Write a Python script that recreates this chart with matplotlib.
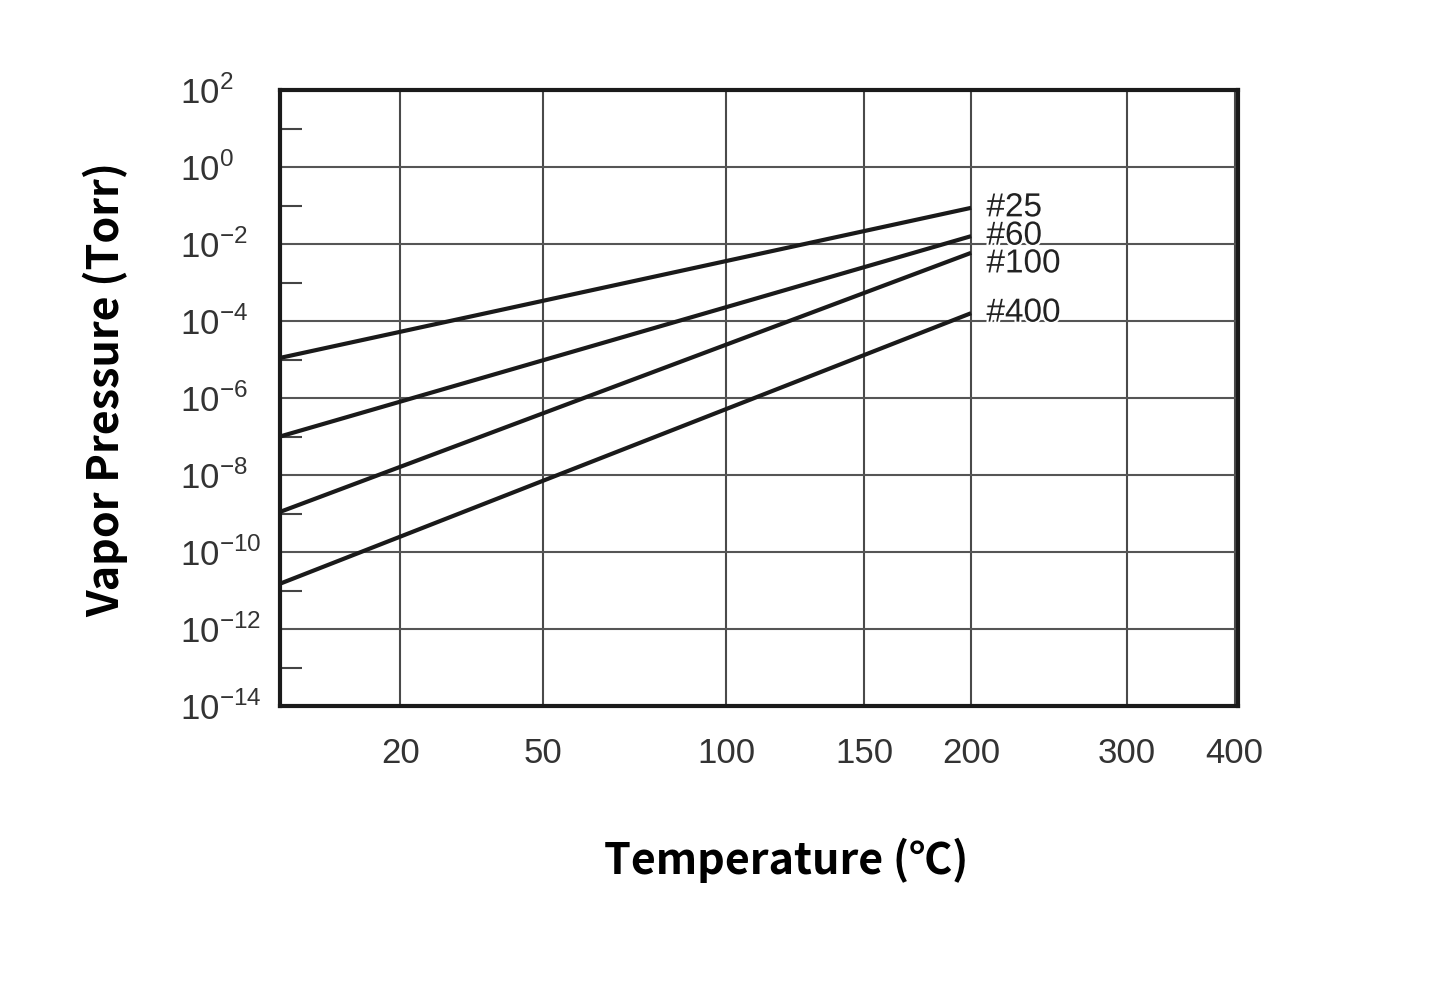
import numpy as np
import matplotlib.pyplot as plt
import matplotlib.patheffects as pe
from matplotlib.ticker import FixedLocator, NullFormatter

# end points (temperature in C, pressure in Torr)
temps = [0, 200]
grades = ["#25", "#60", "#100", "#400"]
p_25 = [1.1e-5, 8.7e-2]
p_60 = [1.0e-7, 1.6e-2]
p_100 = [1.1e-9, 5.9e-3]
p_400 = [1.5e-11, 1.6e-4]
xticks = [20, 50, 100, 150, 200, 300, 400]
yticks = [1e2, 1e0, 1e-2, 1e-4, 1e-6, 1e-8, 1e-10, 1e-12, 1e-14]
ylabels = ["$10^{2}$", "$10^{0}$", "$10^{-2}$", "$10^{-4}$", "$10^{-6}$",
           "$10^{-8}$", "$10^{-10}$", "$10^{-12}$", "$10^{-14}$"]

# label nudges in points (the #100 label sits a little below its line end)
label_dy = [0, 0, -8, 0]

C = 250.0  # offset that fits the printed temperature axis best


def fwd(t):
    return -1000.0 / (np.asarray(t, dtype=float) + C)


def inv(u):
    return -1000.0 / np.asarray(u, dtype=float) - C


plt.rcParams['font.family'] = ['Liberation Sans', 'DejaVu Sans']
plt.rcParams['mathtext.fontset'] = 'custom'
plt.rcParams['mathtext.rm'] = 'Liberation Sans'

fig = plt.figure(figsize=(14.46, 9.88), dpi=100)
ax = fig.add_axes([0.1936, 0.2854, 0.6624, 0.6235])
ax.set_xscale('function', functions=(fwd, inv))
ax.set_yscale('log')
ax.set_xlim(-1, 403.5)
ax.set_ylim(1e-14, 1e2)

for v in xticks:
    ax.axvline(v, color='#4a4a4a', lw=1.5, zorder=1)
for v in yticks[1:-1]:
    ax.axhline(v, color='#555555', lw=1.5, zorder=1)

for name, vals, dy in zip(grades, [p_25, p_60, p_100, p_400], label_dy):
    ax.plot([temps[0] - 1, temps[1]], vals, color='#1a1a1a', lw=3, zorder=3,
            solid_capstyle='butt')
    ax.annotate(name, (temps[-1], vals[-1]), xytext=(11, dy), textcoords='offset points',
                fontsize=24, color='#222222', va='center', ha='left', zorder=4,
                path_effects=[pe.withStroke(linewidth=3, foreground='white')])

ax.set_xticks(xticks)
ax.set_xticklabels([str(v) for v in xticks])
ax.xaxis.set_minor_locator(FixedLocator([]))
ax.set_yticks(yticks)
ax.set_yticklabels(ylabels)
for lab in ax.get_yticklabels():
    lab.set_horizontalalignment('left')
ax.yaxis.set_minor_locator(FixedLocator([10.0 ** k for k in range(-13, 2, 2)]))
ax.yaxis.set_minor_formatter(NullFormatter())
ax.tick_params(axis='x', which='major', length=0, pad=22, labelsize=25, labelcolor='#333333')
ax.tick_params(axis='y', which='major', length=0, pad=72, labelsize=25, labelcolor='#333333')
ax.tick_params(axis='y', which='minor', direction='in', length=16, width=1.5, color='#444444')

for s in ax.spines.values():
    s.set_linewidth(3)
    s.set_color('#1a1a1a')

fig.text(0.073, 0.606, "Vapor Pressure (Torr)", rotation=90, fontsize=31,
         fontweight='bold', family=['Noto Sans CJK SC', 'DejaVu Sans'], ha='center', va='center')
fig.text(0.544, 0.1296, "Temperature (\u2103)", fontsize=31, fontweight='bold',
         family=['Noto Sans CJK SC', 'DejaVu Sans'], ha='center', va='center')

fig.savefig("out.png", dpi=100, facecolor='white')
